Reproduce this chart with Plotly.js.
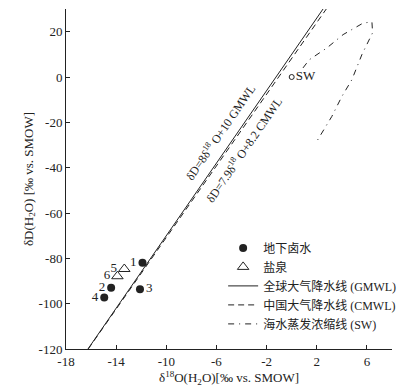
<!DOCTYPE html>
<html>
<head>
<meta charset="utf-8">
<script src="https://cdn.plot.ly/plotly-3.0.1.min.js"></script>
<style>
  body { margin: 0; background: #fff; }
  #chart { width: 420px; height: 388px; }
</style>
</head>
<body>
<div id="chart"></div>
<script>
// 地下卤水
const brineX = [-11.9, -14.4, -12.1, -14.95];
const brineY = [-82, -93, -93.6, -97.3];
const brineLabels = ['1', '2', '3', '4'];
const brinePos = ['middle left', 'middle left', 'middle right', 'middle left'];

// 盐泉
const springX = [-13.35, -13.9];
const springY = [-84.7, -87.9];
const springLabels = ['5', '6'];

// 海水
const swX = [0];
const swY = [0];

// 海水蒸发浓缩线
const evapX = [0.9, 1.4, 2.8, 4.1, 5.7, 6.4, 6.45, 5.6, 4.8, 4.0, 3.2, 2.4, 2.0];
const evapY = [4.0, 7.6, 12.8, 18.7, 23.8, 24.3, 19.5, 9.9, -1.2, -8.6, -17.4, -24.8, -28.4];

// 降水线 δD = a·δ18O + b
const gmwl = {a: 8, b: 10};
const cmwl = {a: 7.9, b: 8.2};
const yEnds = [-120, 30];

const ink = '#222';
const serif = '"Liberation Serif", "Times New Roman", "Noto Sans CJK SC", serif';

const lineX = (m) => yEnds.map(y => (y - m.b) / m.a);

const data = [
  {
    x: brineX, y: brineY, text: brineLabels, textposition: brinePos,
    type: 'scatter', mode: 'markers+text', name: '地下卤水',
    marker: {symbol: 'circle', size: 8, color: ink},
    textfont: {family: serif, size: 13, color: ink}
  },
  {
    x: springX, y: springY, text: springLabels, textposition: 'middle left',
    type: 'scatter', mode: 'markers+text', name: '盐泉',
    marker: {symbol: 'triangle-up-open', size: 10, color: ink, line: {width: 1, color: ink}},
    textfont: {family: serif, size: 13, color: ink}
  },
  {
    x: lineX(gmwl), y: yEnds, type: 'scatter', mode: 'lines',
    name: '全球大气降水线 (GMWL)',
    line: {color: ink, width: 1}
  },
  {
    x: lineX(cmwl), y: yEnds, type: 'scatter', mode: 'lines',
    name: '中国大气降水线 (CMWL)',
    line: {color: ink, width: 1, dash: '6px,4px'}
  },
  {
    x: evapX, y: evapY, type: 'scatter', mode: 'lines',
    name: '海水蒸发浓缩线 (SW)',
    line: {color: ink, width: 1, dash: '6px,5px,1px,5px'}
  },
  {
    x: swX, y: swY, text: ['SW'], textposition: 'middle right',
    type: 'scatter', mode: 'markers+text', showlegend: false,
    marker: {symbol: 'circle-open', size: 5, color: ink, line: {width: 1, color: ink}},
    textfont: {family: serif, size: 13, color: ink}
  }
];

const angle = -Math.atan(8 * 2.264 / 12.46) * 180 / Math.PI;

const layout = {
  width: 420,
  height: 388,
  margin: {l: 66, r: 28, t: 9, b: 39},
  paper_bgcolor: '#fff',
  plot_bgcolor: '#fff',
  font: {family: serif, size: 13, color: ink},
  showlegend: true,
  legend: {
    x: 0.482, y: 0.34, xanchor: 'left', yanchor: 'top',
    font: {family: serif, size: 12, color: ink},
    bgcolor: 'rgba(0,0,0,0)', tracegroupgap: 0, itemwidth: 30
  },
  xaxis: {
    range: [-18, 8],
    tickvals: [-18, -14, -10, -6, -2, 2, 6, 8],
    ticktext: ['-18', '-14', '-10', '-6', '-2', '2', '6', ''],
    ticks: 'inside', ticklen: 4, tickcolor: ink,
    showline: true, linecolor: ink, linewidth: 1,
    showgrid: false, zeroline: false,
    title: {text: 'δ<sup>18</sup>O(H<sub>2</sub>O)[‰ vs. SMOW]', font: {size: 13}, standoff: 4}
  },
  yaxis: {
    range: [-120, 30],
    tickvals: [-120, -100, -80, -60, -40, -20, 0, 20, 30],
    ticktext: ['-120', '-100', '-80', '-60', '-40', '-20', '0', '20', ''],
    ticks: 'inside', ticklen: 4, tickcolor: ink,
    showline: true, linecolor: ink, linewidth: 1,
    showgrid: false, zeroline: false,
    title: {text: 'δD(H<sub>2</sub>O) [‰ vs. SMOW]', font: {size: 13}, standoff: 2}
  },
  annotations: [
    {
      x: -5.64, y: -24.2, xref: 'x', yref: 'y', showarrow: false,
      text: 'δD=8δ<sup>18</sup> O+10 GMWL', textangle: angle,
      font: {family: serif, size: 12, color: ink}
    },
    {
      x: -3.79, y: -32.1, xref: 'x', yref: 'y', showarrow: false,
      text: 'δD=7.9δ<sup>18</sup> O+8.2 CMWL', textangle: angle,
      font: {family: serif, size: 12, color: ink}
    }
  ]
};

Plotly.newPlot('chart', data, layout, {displayModeBar: false});
</script>
</body>
</html>
